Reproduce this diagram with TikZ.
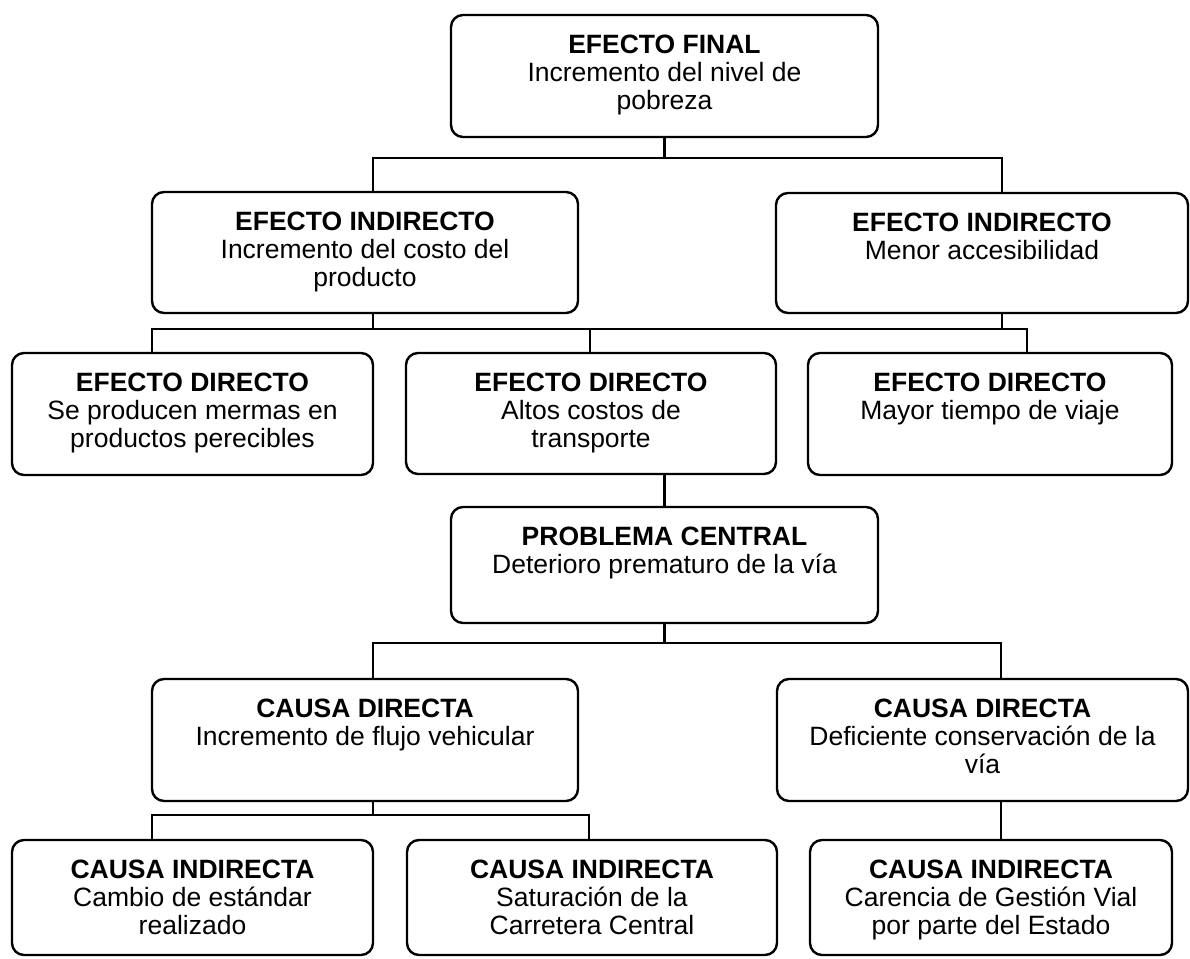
\documentclass[tikz,border=0pt]{standalone}
\usepackage{fontspec}
\setmainfont{Liberation Sans}
\newcommand{\boxtxt}[4]{\parbox[c][#2][t]{#1}{\centering\fontsize{26.5}{28}\selectfont\vspace*{20pt}\textbf{#3}\\#4\par}}
\begin{document}
\begin{tikzpicture}[x=1pt,y=-1pt,
  box/.style={draw=black, line width=2.4pt, rounded corners=12pt, inner sep=0pt, fill=white},
  conn/.style={draw=black, line width=2.4pt}]
\fill[white] (0,0) rectangle (1190,958);
\useasboundingbox (0,0) rectangle (1190,958);

% boxes
\node[box] (EF)  at (664.5,76)   {\boxtxt{427pt}{122pt}{EFECTO FINAL}{Incremento del nivel de\\pobreza}};
\node[box] (EIL) at (365,252.5)  {\boxtxt{426pt}{121pt}{EFECTO INDIRECTO}{Incremento del costo del\\producto}};
\node[box] (EIR) at (982,253)    {\boxtxt{412pt}{120pt}{EFECTO INDIRECTO}{Menor accesibilidad}};
\node[box] (ED1) at (192.5,414)  {\boxtxt{361pt}{122pt}{EFECTO DIRECTO}{Se producen mermas en\\productos perecibles}};
\node[box] (ED2) at (591,413.5)  {\boxtxt{370pt}{121pt}{EFECTO DIRECTO}{Altos costos de\\transporte}};
\node[box] (ED3) at (990,414)    {\boxtxt{364pt}{122pt}{EFECTO DIRECTO}{Mayor tiempo de viaje}};
\node[box] (PC)  at (664.5,565)  {\boxtxt{427pt}{116pt}{PROBLEMA CENTRAL}{Deterioro prematuro de la vía}};
\node[box] (CDL) at (365,740)    {\boxtxt{426pt}{122pt}{CAUSA DIRECTA}{Incremento de flujo vehicular}};
\node[box] (CDR) at (982.5,740)  {\boxtxt{411pt}{122pt}{CAUSA DIRECTA}{Deficiente conservación de la\\vía}};
\node[box] (CI1) at (192.5,897.5){\boxtxt{361pt}{115pt}{CAUSA INDIRECTA}{Cambio de estándar\\realizado}};
\node[box] (CI2) at (592,897.5)  {\boxtxt{370pt}{115pt}{CAUSA INDIRECTA}{Saturación de la\\Carretera Central}};
\node[box] (CI3) at (991,897.5)  {\boxtxt{362pt}{115pt}{CAUSA INDIRECTA}{Carencia de Gestión Vial\\por parte del Estado}};

% junction coordinates
\coordinate (a1) at (373,158);
\coordinate (a2) at (1002,158);
\coordinate (b1) at (152,329);
\coordinate (b2) at (590,329);
\coordinate (b3) at (1027,329);
\coordinate (c1) at (373,643);
\coordinate (c2) at (1001,643);
\coordinate (d0) at (373,815);
\coordinate (d1) at (152,815);
\coordinate (d2) at (589,815);

% level 1
\draw[conn] (EF.south) -- (EF.south |- a1);
\draw[conn] (a1 |- EIL.north) -- (a1) -- (a2) -- (a2 |- EIR.north);
% level 2
\draw[conn] (a1 |- EIL.south) -- (a1 |- b1);
\draw[conn] (a2 |- EIR.south) -- (a2 |- b1);
\draw[conn] (b1 |- ED1.north) -- (b1) -- (b3) -- (b3 |- ED3.north);
\draw[conn] (b2) -- (b2 |- ED2.north);
% level 3
\draw[conn] (PC.north |- ED2.south) -- (PC.north);
% level 4
\draw[conn] (PC.south) -- (PC.south |- c1);
\draw[conn] (c1 |- CDL.north) -- (c1) -- (c2) -- (c2 |- CDR.north);
% level 5
\draw[conn] (d0 |- CDL.south) -- (d0);
\draw[conn] (d1 |- CI1.north) -- (d1) -- (d2) -- (d2 |- CI2.north);
\draw[conn] (c2 |- CDR.south) -- (c2 |- CI3.north);
\end{tikzpicture}
\end{document}
